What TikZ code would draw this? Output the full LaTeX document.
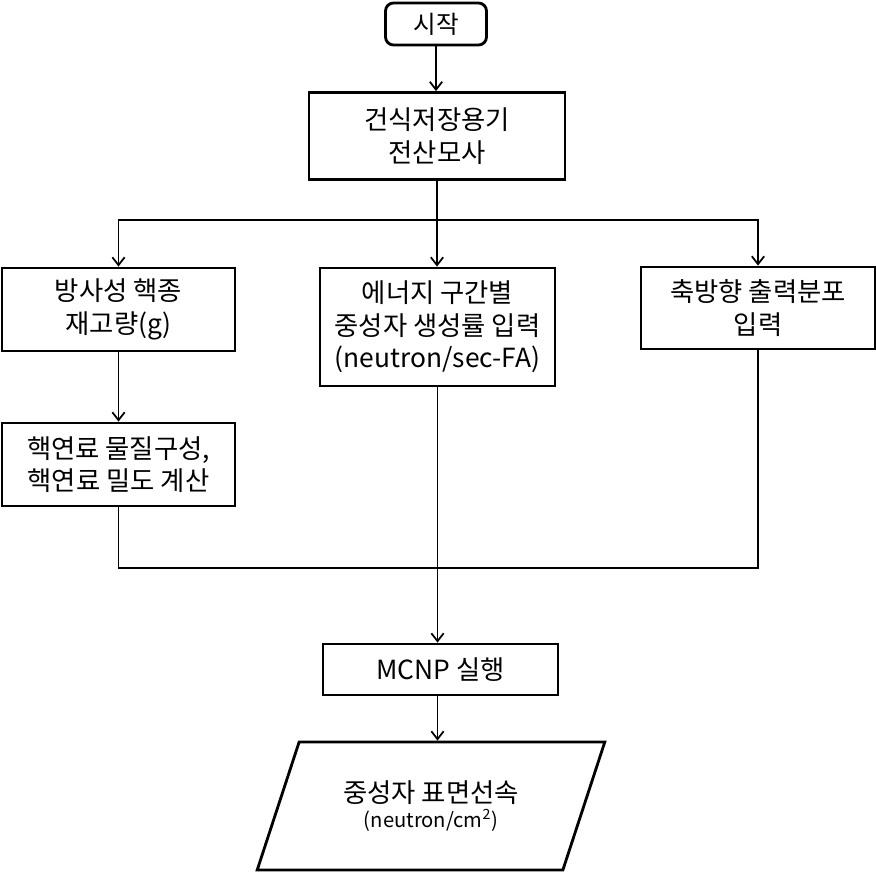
\documentclass[tikz,border=0pt]{standalone}
\usepackage{fontspec}
\setmainfont{Noto Sans CJK KR}
\usepackage{tikz}
\usetikzlibrary{arrows.meta, shapes.geometric}

\begin{document}
\begin{tikzpicture}[
    x=0.02cm, y=-0.02cm,
    box/.style={
        rectangle,
        draw,
        line width=1.6pt,
        align=center,
        inner sep=0pt,
        font=\fontsize{15}{18.5}\selectfont
    },
    startbox/.style={
        box,
        rounded corners=0.16cm,
        font=\fontsize{14}{18}\selectfont
    },
    databox/.style={
        trapezium,
        draw,
        line width=1.6pt,
        trapezium left angle=61,
        trapezium right angle=119,
        trapezium stretches=true,
        align=center,
        inner sep=0pt
    },
    arrow/.style={
        -{Straight Barb[length=4.5pt,width=7pt]},
        line width=1pt
    },
    line/.style={
        line width=1pt
    }
]

\useasboundingbox (0,0) rectangle (876,872);

\node[startbox, minimum width=2.02cm, minimum height=0.84cm] (start) at (436,24) {시작};

\node[box, minimum width=5.12cm, minimum height=1.74cm] (model) at (437,136)
{건식저장용기\\
전산모사};

\node[box, minimum width=4.66cm, minimum height=1.66cm] (inventory) at (118.5,309.5)
{방사성 핵종\\
재고량(g)};

\node[box, minimum width=4.7cm, minimum height=2.36cm] (source) at (437.5,327)
{에너지 구간별\\
중성자 생성률 입력\\
(neutron/sec-FA)};

\node[box, minimum width=4.68cm, minimum height=1.64cm] (power) at (758,308)
{축방향 출력분포\\
입력};

\node[box, minimum width=4.66cm, minimum height=1.66cm] (material) at (118.5,464.5)
{핵연료 물질구성,\\
핵연료 밀도 계산};

\node[box, minimum width=4.7cm, minimum height=1.02cm] (mcnp) at (440.5,669.5)
{MCNP 실행};

\node[databox, minimum width=6.96cm, minimum height=2.56cm] (flux) at (431,806)
{\fontsize{15}{20}\selectfont 중성자 표면선속\\[2pt]
\fontsize{11.5}{14}\selectfont (neutron/cm\textsuperscript{2})};

\coordinate (split) at (437,220);
\coordinate (merge) at (437.5,568);

\draw[arrow] (start) -- (start |- model.north);
\draw[line] (model) -- (split);
\draw[arrow] (split) -| (inventory);
\draw[arrow] (split) -- (split |- source.north);
\draw[arrow] (split) -| (power);
\draw[arrow] (inventory) -- (material);
\draw[line] (material) |- (merge);
\draw[line] (power) |- (merge);
\draw[arrow] (source) -- (source |- mcnp.north);
\draw[arrow] (mcnp.south -| source) -- (source |- flux.north);

\end{tikzpicture}
\end{document}
